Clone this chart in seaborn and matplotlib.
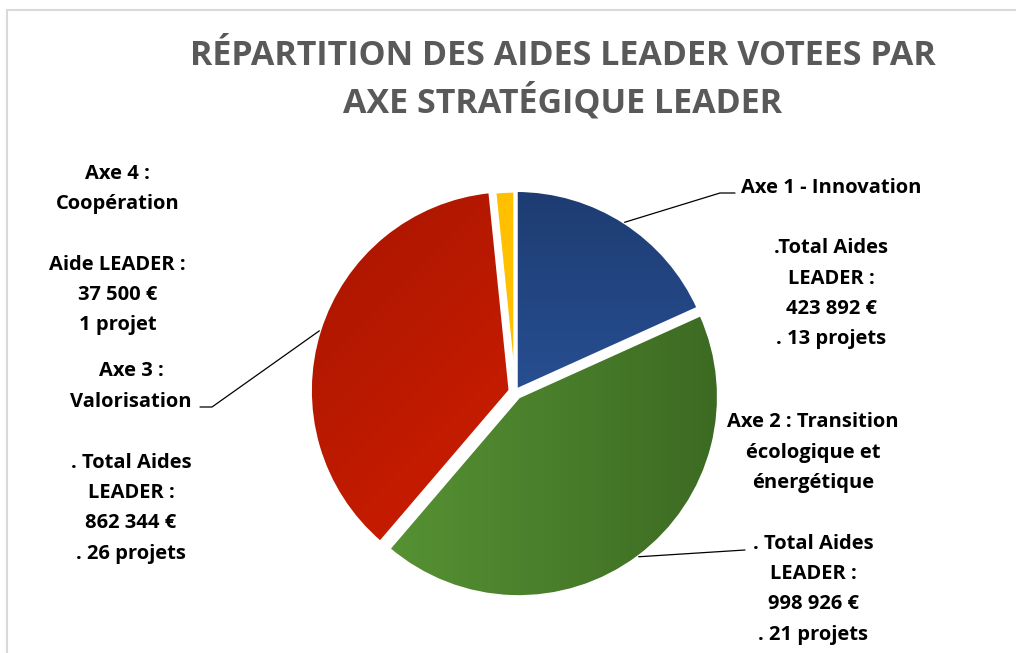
import numpy as np
import matplotlib
matplotlib.use("Agg")
import matplotlib.pyplot as plt
from matplotlib.lines import Line2D
import seaborn as sns

# ---- data ----
axes_names = ["Axe 1 - Innovation", "Axe 2 : Transition écologique et énergétique",
              "Axe 3 : Valorisation", "Axe 4 : Coopération"]
aides = [423892, 998926, 862344, 37500]
projets = [13, 21, 26, 1]
title = "RÉPARTITION DES AIDES LEADER VOTEES PAR\nAXE STRATÉGIQUE LEADER"
label_texts = [
    "Axe 1 - Innovation\n\n.Total Aides\nLEADER :\n423 892 €\n. 13 projets",
    "Axe 2 : Transition\nécologique et\nénergétique\n\n. Total Aides\nLEADER :\n998 926 €\n. 21 projets",
    "Axe 3 :\nValorisation\n\n. Total Aides\nLEADER :\n862 344 €\n. 26 projets",
    "Axe 4 :\nCoopération\n\nAide LEADER :\n37 500 €\n1 projet",
]

# ---- style ----
sns.set_theme(style="white")
plt.rcParams["font.family"] = ["Open Sans", "DejaVu Sans"]
palette = sns.color_palette(["#2a4f8f", "#4a8030", "#c41c00", "#ffc000"])
grad_stops = [
    (("#1e3c72", "#3061b0"), "v"),
    (("#5c9a37", "#3c6a22"), "h"),
    (("#a81500", "#e02200"), "d"),
    (("#ffc000", "#ffc000"), "v"),
]

W, H = 1016, 653
fig = plt.figure(figsize=(W / 100, H / 100), dpi=100)
ax = fig.add_axes([0, 0, 1, 1])

center = (515, H - 392)
radius = 200
explode = [2, 6, 5, 1]

wedges, _ = ax.pie(aides, colors=palette, startangle=90, counterclock=False,
                   center=center, radius=radius, explode=explode, frame=True,
                   wedgeprops=dict(edgecolor="white", linewidth=2.4, zorder=3))

def to_rgb(h):
    return np.array(matplotlib.colors.to_rgb(h))

n = 256
t = np.linspace(0, 1, n)
for w, ((c1, c2), d) in zip(wedges, grad_stops):
    if d == "v":
        T = np.tile(t[:, None], (1, n))
    elif d == "h":
        T = np.tile(t[None, :], (n, 1))
    else:
        T = (t[:, None] + t[None, :]) / 2
    img = to_rgb(c1)[None, None, :] * (1 - T)[..., None] + to_rgb(c2)[None, None, :] * T[..., None]
    cx, cy = w.center
    r = w.r
    im = ax.imshow(img, extent=(cx - r, cx + r, cy - r, cy + r), origin="upper",
                   zorder=2, interpolation="bilinear")
    im.set_clip_path(w)
    w.set_facecolor("none")

ax.set_xlim(0, W)
ax.set_ylim(0, H)
ax.set_aspect("equal")
ax.axis("off")

# ---- labels & leader lines ----
lab_pos = [(831, H - 263.5), (813, H - 528.5), (131, H - 462.5), (117.5, H - 249.5)]
leader_end = [[(720, H - 193), (735, H - 193)],
              [(745, H - 550)],
              [(212, H - 407), (200, H - 407)],
              None]
fs = 14.5
for w, txt, pos, le in zip(wedges, label_texts, lab_pos, leader_end):
    ax.text(pos[0], pos[1], txt, ha="center", va="center", fontsize=fs,
            fontweight="bold", color="black", linespacing=1.69, zorder=5)
    if le is not None:
        thm = np.deg2rad((w.theta1 + w.theta2) / 2)
        sx = w.center[0] + w.r * np.cos(thm)
        sy = w.center[1] + w.r * np.sin(thm)
        xs = [sx] + [p[0] for p in le]
        ys = [sy] + [p[1] for p in le]
        ax.plot(xs, ys, color="black", lw=0.9, zorder=4)

fig.text(563 / W, 1 - 80 / H, title, ha="center", va="center", fontsize=24.5,
         fontweight="bold", color="#595959", linespacing=1.33)

# chart frame
fig.add_artist(Line2D([7 / W, 7 / W], [0, 1 - 10 / H], transform=fig.transFigure,
                      color="#d9d9d9", lw=1.5))
fig.add_artist(Line2D([7 / W, 1], [1 - 10 / H, 1 - 10 / H], transform=fig.transFigure,
                      color="#d9d9d9", lw=1.5))

fig.savefig("out.png", dpi=100)
